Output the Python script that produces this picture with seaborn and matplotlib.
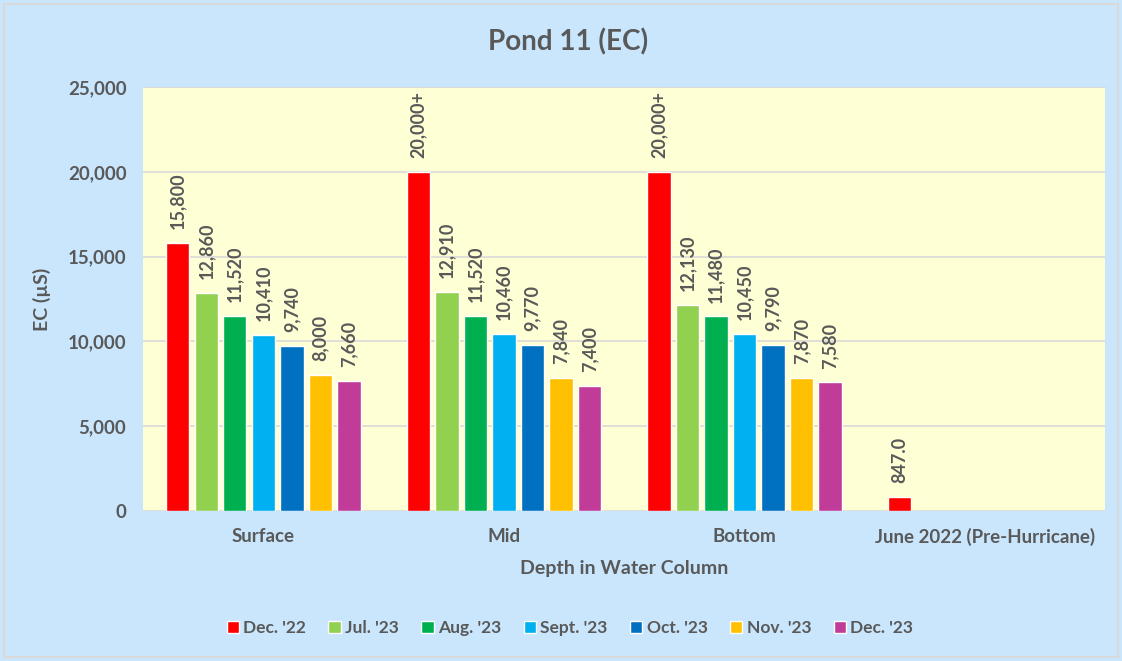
import numpy as np
import pandas as pd
import seaborn as sns
import matplotlib.pyplot as plt
from matplotlib.patches import Rectangle

# Данные
depths = ['Surface', 'Mid', 'Bottom', 'June 2022 (Pre-Hurricane)']
dates = ["Dec. '22", "Jul. '23", "Aug. '23", "Sept. '23", "Oct. '23", "Nov. '23", "Dec. '23"]
surface = [15800, 12860, 11520, 10410, 9740, 8000, 7660]
mid = [20000, 12910, 11520, 10460, 9770, 7840, 7400]
bottom = [20000, 12130, 11480, 10450, 9790, 7870, 7580]
june_2022 = [847, np.nan, np.nan, np.nan, np.nan, np.nan, np.nan]
colors = ['#FF0000', '#92D050', '#00B050', '#00B0F0', '#0070C0', '#FFC000', '#C13B98']

rows = []
for depth, vals in zip(depths, [surface, mid, bottom, june_2022]):
    for d, v in zip(dates, vals):
        rows.append({'Depth': depth, 'Date': d, 'EC': v})
df = pd.DataFrame(rows)

sns.set_style('white')
plt.rcParams['font.family'] = ['Lato', 'DejaVu Sans']
text_color = '#595959'
bg_fig = '#C9E6FD'
bg_ax = '#FFFFD5'

fig = plt.figure(figsize=(11.22, 6.61), dpi=100, facecolor=bg_fig)
ax = fig.add_axes([0.1275, 0.227, 0.8575, 0.641])
ax.set_facecolor(bg_ax)

sns.barplot(data=df, x='Depth', y='EC', hue='Date', order=depths, hue_order=dates,
            palette=colors, errorbar=None, width=0.83, gap=0.18, ax=ax,
            saturation=1)

ax.set_ylim(0, 25000)
ax.set_yticks(range(0, 25001, 5000))
ax.yaxis.set_major_formatter(plt.FuncFormatter(lambda v, p: f'{int(v):,}'))
ax.grid(axis='y', color='#D9D9D9', linewidth=1.2)
ax.set_axisbelow(True)
for s in ['left', 'right', 'bottom']:
    ax.spines[s].set_visible(False)
ax.spines['top'].set_color('#D9D9D9')
ax.tick_params(axis='both', length=0, labelsize=13.5, labelcolor=text_color, pad=12)
for lab in ax.get_xticklabels() + ax.get_yticklabels():
    lab.set_fontweight('bold')


def fmt(v):
    if v >= 20000:
        return f'{int(v):,}+'
    if v < 1000:
        return f'{v:.1f}'
    return f'{int(v):,}'


for cont in ax.containers:
    ax.bar_label(cont, labels=[fmt(v) for v in cont.datavalues], rotation=90,
                 padding=10, fontsize=13, fontweight='bold', color=text_color)

ax.set_xlabel('Depth in Water Column', fontsize=14, fontweight='bold', color=text_color, labelpad=10)
ax.set_ylabel('EC (µS)', fontsize=14, fontweight='bold', color=text_color, labelpad=12)
fig.text(0.506, 0.936, 'Pond 11 (EC)', ha='center', va='center', fontsize=20,
         fontweight='bold', color=text_color)

leg = fig.legend(*ax.get_legend_handles_labels(), loc='center', bbox_to_anchor=(0.508, 0.05),
                 ncol=7, frameon=False, handlelength=0.7, handleheight=0.7,
                 handletextpad=0.25, columnspacing=1.3, prop={'size': 12.5, 'weight': 'bold'})
ax.get_legend().remove()
for t in leg.get_texts():
    t.set_color(text_color)

fig.patches.append(Rectangle((0.004, 0.006), 0.992, 0.988, transform=fig.transFigure,
                             fill=False, edgecolor='#D9D9D9', linewidth=1.5))

fig.savefig('out.png', dpi=100, facecolor=bg_fig)
